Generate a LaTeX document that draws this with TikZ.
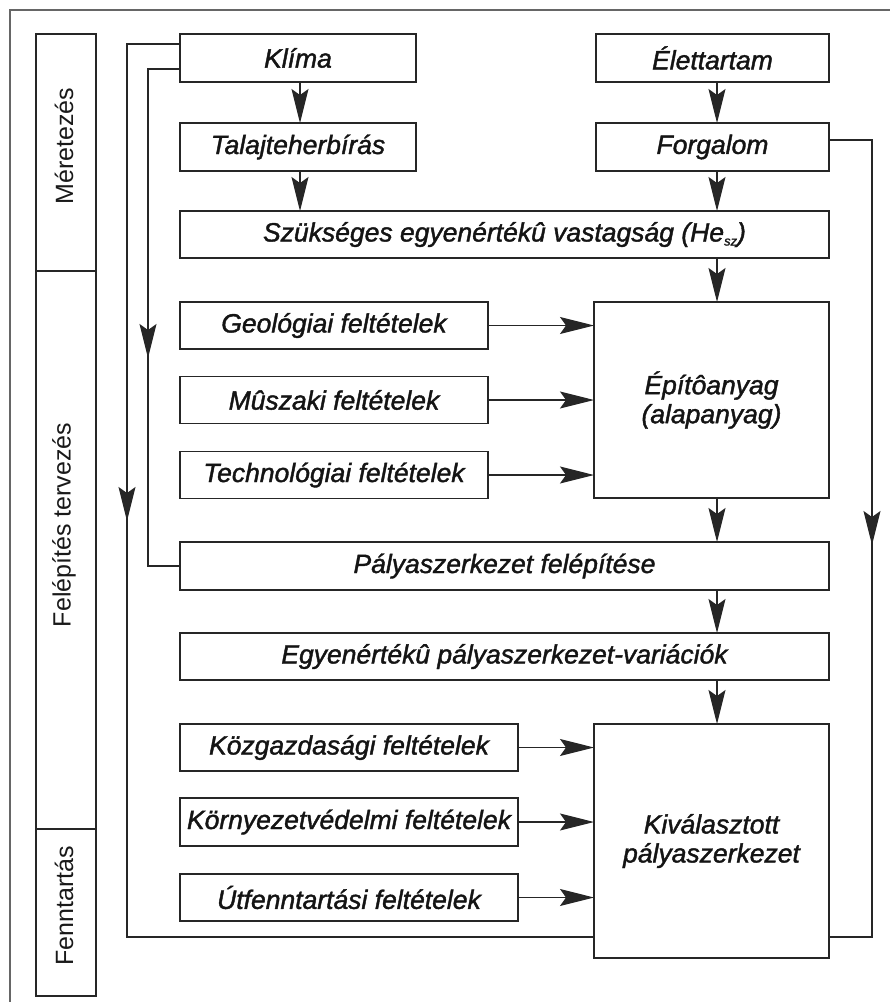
\documentclass[tikz,border=0pt]{standalone}
\usepackage{fontspec}
\setmainfont{Liberation Sans}
\newfontfamily\boxfont{Liberation Sans}[FakeBold=1.5]
\usetikzlibrary{arrows.meta,calc,decorations.markings}
\begin{document}
\begin{tikzpicture}[x=1pt,y=-1pt,
  lin/.style={draw=black!85, line width=1.2pt},
  box/.style={lin, rectangle, inner sep=0pt, outer sep=0pt, font=\boxfont\fontsize{26.5}{29}\selectfont\itshape, text=black!92, align=center},
  sect/.style={lin, rectangle, inner sep=0pt, outer sep=0pt, minimum width=60pt},
  vlabel/.style={rotate=90, inner sep=0pt, font=\fontsize{25}{29}\selectfont, text=black!90},
  arrowhd/.style={-{Stealth[length=34pt,width=17pt,inset=6pt]}},
  arr/.style={lin, arrowhd},
  midarr/.style={postaction={decorate}, decoration={markings, mark=at position #1 with {\arrow{Stealth[length=34pt,width=17pt,inset=6pt]}}}}
]
\useasboundingbox (0,0) rectangle (890,1002);
\draw[draw=black!60, line width=1.5pt] (10,1002) -- (10,10) -- (890,10);

% left phase column
\node[sect, minimum height=237pt] (merit) at (66,152.5) {};
\node[sect, minimum height=558pt] (felep) at (66,550) {};
\node[sect, minimum height=167pt] (fennt) at (66,912.5) {};
\node[vlabel] (lmerit) at (64,146) {Méretezés};
\node[vlabel] (lfelep) at (64,525) {Felépítés tervezés};
\node[vlabel] (lfennt) at (64,906) {Fenntartás};

% boxes
\node[box, minimum width=236pt, minimum height=48pt] (klima) at (298,58) {Klíma};
\node[box, minimum width=236pt, minimum height=48pt] (talaj) at (298,147) {Talajteherbírás};
\node[box, minimum width=233pt, minimum height=48pt] (elet) at (712.5,58) {Élettartam};
\node[box, minimum width=233pt, minimum height=48pt] (forg) at (712.5,147) {Forgalom};
\node[box, minimum width=649pt, minimum height=47pt] (szuk) at (504.5,234.5) {Szükséges egyenértékû vastagság (He\raisebox{-4pt}{\fontsize{13}{13}\selectfont sz})};
\node[box, minimum width=308pt, minimum height=47pt] (geo) at (334,325.5) {Geológiai feltételek};
\node[box, minimum width=308pt, minimum height=47pt] (musz) at (334,400) {Mûszaki feltételek};
\node[box, minimum width=308pt, minimum height=47pt] (tech) at (334,475) {Technológiai feltételek};
\node[box, minimum width=235pt, minimum height=196pt] (epit) at (711.5,400) {Építôanyag\\(alapanyag)};
\node[box, minimum width=649pt, minimum height=48pt] (palya) at (504.5,566) {Pályaszerkezet felépítése};
\node[box, minimum width=649pt, minimum height=47pt] (egyen) at (504.5,656.5) {Egyenértékû pályaszerkezet-variációk};
\node[box, minimum width=338pt, minimum height=47pt] (kozg) at (349,747.5) {Közgazdasági feltételek};
\node[box, minimum width=338pt, minimum height=48pt] (korny) at (349,822) {Környezetvédelmi feltételek};
\node[box, minimum width=338pt, minimum height=47pt] (utf) at (349,897.5) {Útfenntartási feltételek};
\node[box, minimum width=235pt, minimum height=234pt] (kival) at (711.5,841) {Kiválasztott\\pályaszerkezet};

% helper coordinates
\coordinate (ax) at (717,0);
\coordinate (bx) at (300,0);
\coordinate (ox) at (127,0);
\coordinate (ix) at (148,0);
\coordinate (rx) at (872,0);
\coordinate (fy) at (0,937);

% main arrows
\draw[arr] (klima.south -| bx) -- (talaj.north -| bx);
\draw[arr] (talaj.south -| bx) -- (szuk.north -| bx);
\draw[arr] (elet.south -| ax) -- (forg.north -| ax);
\draw[arr] (forg.south -| ax) -- (szuk.north -| ax);
\draw[arr] (szuk.south -| ax) -- (epit.north -| ax);
\draw[arr] (geo.east) -- (geo.east -| epit.west);
\draw[arr] (musz.east) -- (musz.east -| epit.west);
\draw[arr] (tech.east) -- (tech.east -| epit.west);
\draw[arr] (epit.south -| ax) -- (palya.north -| ax);
\draw[arr] (palya.south -| ax) -- (egyen.north -| ax);
\draw[arr] (egyen.south -| ax) -- (kival.north -| ax);
\draw[arr] (kozg.east) -- (kozg.east -| kival.west);
\draw[arr] (korny.east) -- (korny.east -| kival.west);
\draw[arr] (utf.east) -- (utf.east -| kival.west);

% feedback lines
\draw[lin, midarr=530pt] ($(klima.north west)+(0,10)$) -| (ox |- fy) -- (kival.west |- fy);
\draw[lin, midarr=321pt] ($(klima.north west)+(0,35)$) -| (ix |- palya.west) -- (palya.west);
\draw[lin, midarr=448pt] ($(forg.north east)+(0,17)$) -| (rx |- fy) -- (kival.east |- fy);
\end{tikzpicture}
\end{document}
